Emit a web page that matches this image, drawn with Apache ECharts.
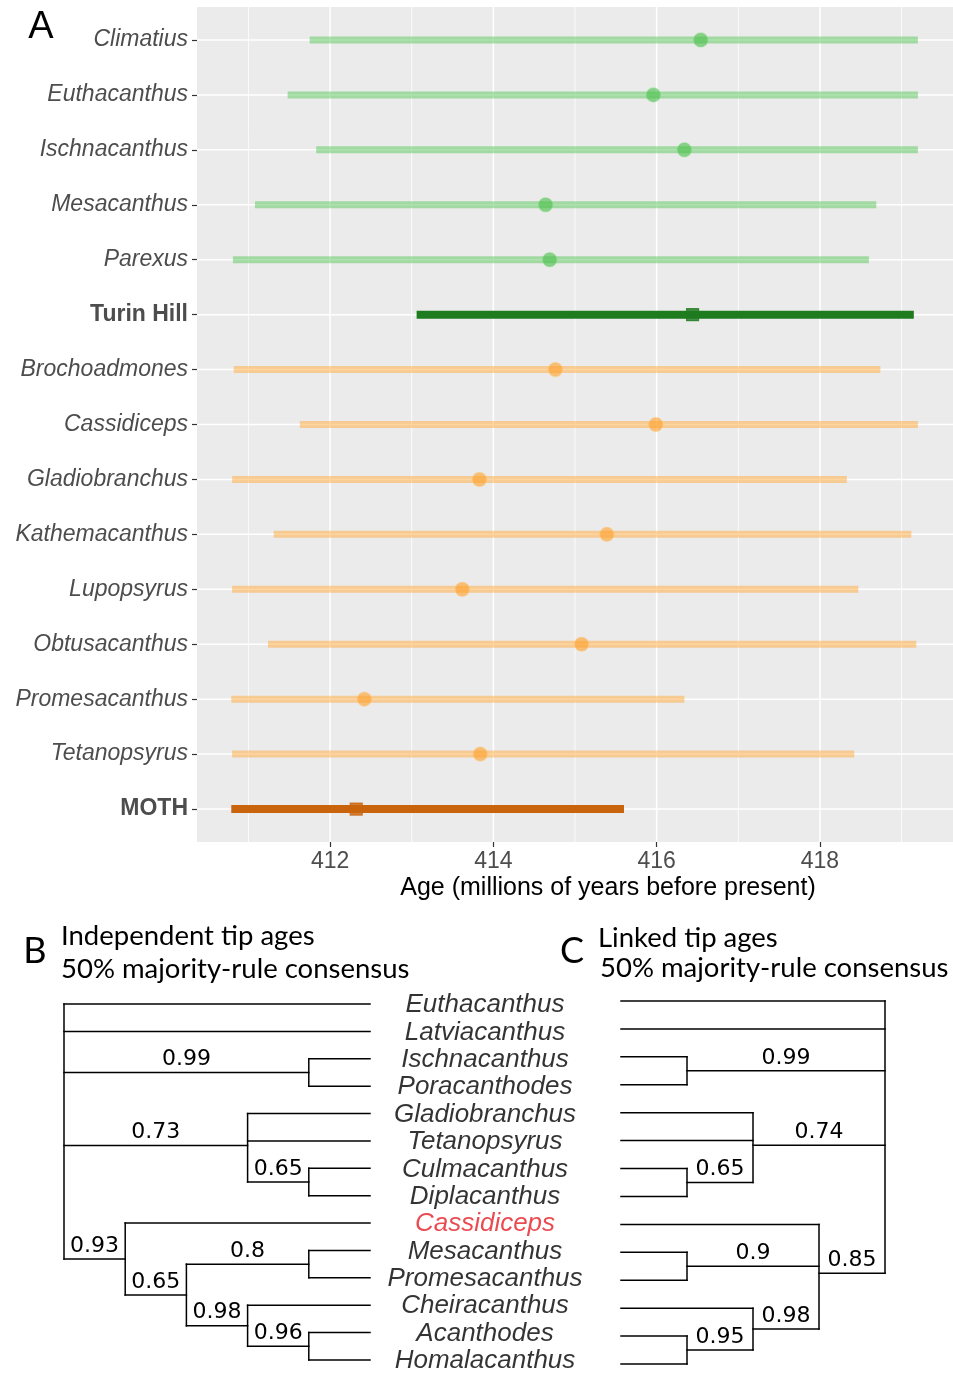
<!DOCTYPE html>
<html><head><meta charset="utf-8">
<script src="https://cdn.jsdelivr.net/npm/echarts@6/dist/echarts.min.js"></script>
<style>html,body{margin:0;padding:0;background:#fff}#c{width:953px;height:1374px}</style>
</head><body><div id="c"></div>
<script>
// ---------- Panel A data ----------
const taxa = ['Climatius','Euthacanthus','Ischnacanthus','Mesacanthus','Parexus','Turin Hill',
  'Brochoadmones','Cassidiceps','Gladiobranchus','Kathemacanthus','Lupopsyrus','Obtusacanthus',
  'Promesacanthus','Tetanopsyrus','MOTH'];
const kind = ['th','th','th','th','th','thSite','moth','moth','moth','moth','moth','moth','moth','moth','mothSite'];
const ageLow    = [411.75,411.48,411.83,411.08,410.81,413.06,410.82,411.63,410.80,411.31,410.80,411.24,410.79,410.80,410.79];
const ageHigh   = [419.20,419.20,419.20,418.69,418.60,419.15,418.74,419.20,418.33,419.12,418.47,419.18,416.34,418.42,415.60];
const ageMedian = [416.54,415.96,416.34,414.64,414.69,416.44,414.76,415.99,413.83,415.39,413.62,415.08,412.42,413.84,412.32];
const xMajorBreaks = [412,414,416,418];
const xMinorBreaks = [411,413,415,417,419];
const xLimits = [410.37,419.63];
const rowPositions = taxa.map((t,i)=>i+1);

// ---------- Panels B / C data (consensus trees, Newick with support values) ----------
const treeB = '(Euthacanthus,Latviacanthus,(Ischnacanthus,Poracanthodes)0.99,(Gladiobranchus,Tetanopsyrus,(Culmacanthus,Diplacanthus)0.65)0.73,(Cassidiceps,((Mesacanthus,Promesacanthus)0.8,(Cheiracanthus,(Acanthodes,Homalacanthus)0.96)0.98)0.65)0.93)';
const treeC = '(Euthacanthus,Latviacanthus,(Ischnacanthus,Poracanthodes)0.99,(Gladiobranchus,Tetanopsyrus,(Culmacanthus,Diplacanthus)0.65)0.74,(Cassidiceps,(Mesacanthus,Promesacanthus)0.9,(Cheiracanthus,(Acanthodes,Homalacanthus)0.95)0.98)0.85)';
const highlightTips = ['Cassidiceps'];

// ---------- styles ----------
const kindStyle = {
  th:       {bar:'rgba(90,200,90,0.5)',  barW:7, pt:'rgba(70,190,70,0.75)',  ring:'rgba(120,215,120,0.6)', sym:'circle', size:14},
  thSite:   {bar:'#1e7b1e',              barW:8, pt:'#1e7b1e',               ring:'#1e7b1e',              sym:'rect',   size:12},
  moth:     {bar:'rgba(255,170,60,0.5)', barW:7, pt:'rgba(255,160,40,0.75)', ring:'rgba(255,195,110,0.6)', sym:'circle', size:14},
  mothSite: {bar:'#c9640d',              barW:8, pt:'#c9640d',               ring:'#c9640d',              sym:'rect',   size:12}
};

function parseNewick(s){
  let i=0;
  function node(){
    if(s[i]==='('){
      i++; const children=[node()];
      while(s[i]===','){ i++; children.push(node()); }
      i++;
      let lab=''; while(i<s.length && /[0-9.]/.test(s[i])) lab+=s[i++];
      return {children, support: lab||null};
    }
    let name=''; while(i<s.length && !/[,()]/.test(s[i])) name+=s[i++];
    return {name};
  }
  return node();
}
function layoutTree(str){
  const root=parseNewick(str); let k=0;
  (function walk(n){
    if(!n.children){ n.y=k++; n.h=0; return; }
    n.children.forEach(walk);
    n.h=Math.max(...n.children.map(c=>c.h))+1;
    n.y=n.children.reduce((a,c)=>a+c.y,0)/n.children.length;
  })(root);
  const segs=[], labels=[], tips=[];
  (function collect(n){
    if(!n.children){ tips.push({value:[n.h,n.y], name:n.name}); return; }
    const ys=n.children.map(c=>c.y);
    segs.push([n.h,Math.min(...ys),n.h,Math.max(...ys)]);
    n.children.forEach(c=>{
      segs.push([n.h,c.y,c.h,c.y]);
      if(c.support) labels.push({value:[(n.h+c.h)/2,c.y], name:c.support});
      collect(c);
    });
  })(root);
  return {segs,labels,tips,height:root.h,nTips:k};
}
const LB = layoutTree(treeB), LC = layoutTree(treeC);

const chart = echarts.init(document.getElementById('c'), null, {renderer:'canvas'});
const axisTxt = '#4d4d4d';

function gridLineItems(){
  const d=[];
  xMajorBreaks.forEach(v=>d.push([v,1,0]));
  xMinorBreaks.forEach(v=>d.push([v,1,1]));
  rowPositions.forEach(r=>d.push([xLimits[0],r,2]));
  return d;
}

function treeSegSeries(L, xi){
  return {
    type:'custom', xAxisIndex:xi, yAxisIndex:xi, silent:true,
    data:L.segs, encode:{x:[0,2], y:[1,3]},
    renderItem(params, api){
      const p1=api.coord([api.value(0),api.value(1)]);
      const p2=api.coord([api.value(2),api.value(3)]);
      return {type:'line', shape:{x1:p1[0],y1:p1[1],x2:p2[0],y2:p2[1]},
        style:{stroke:'#000', lineWidth:1.5, lineCap:'square'}};
    }
  };
}
function treeLabelSeries(L, xi){
  return {
    type:'custom', xAxisIndex:xi, yAxisIndex:xi, silent:true,
    data:L.labels, encode:{x:0,y:1},
    renderItem(params, api){
      const p=api.coord([api.value(0),api.value(1)]);
      return {type:'text', x:p[0], y:p[1]-2,
        style:{text:L.labels[params.dataIndex].name, fill:'#000', font:'22px "DejaVu Sans"',
          textAlign:'center', textVerticalAlign:'bottom'}};
    }
  };
}

const pointSeries = Object.keys(kindStyle).map(k=>({
  type:'scatter', xAxisIndex:0, yAxisIndex:0, silent:true, z:5,
  symbol:kindStyle[k].sym, symbolSize:kindStyle[k].size,
  itemStyle:{color:kindStyle[k].pt, borderColor:kindStyle[k].ring, borderWidth:1.2},
  data: taxa.map((t,i)=>i).filter(i=>kind[i]===k).map(i=>[ageMedian[i], i+1])
}));

const option = {
  animation:false,
  backgroundColor:'#ffffff',
  grid:[
    {left:197, top:7, width:756, height:835, show:true, backgroundColor:'#ebebeb', borderWidth:0, containLabel:false},
    {left:64, top:1004, width:306, height:356, show:false},
    {left:621, top:1001, width:264, height:363, show:false}
  ],
  xAxis:[
    {gridIndex:0, type:'value', min:xLimits[0], max:xLimits[1],
     axisLine:{show:false}, splitLine:{show:false},
     axisTick:{show:true, customValues:xMajorBreaks, length:5, lineStyle:{color:'#333', width:1.2}},
     axisLabel:{customValues:xMajorBreaks, color:axisTxt, fontSize:23, fontFamily:'Liberation Sans', margin:8}},
    {gridIndex:1, type:'value', min:0, max:LB.height, inverse:true, show:false},
    {gridIndex:2, type:'value', min:0, max:LC.height, show:false}
  ],
  yAxis:[
    {gridIndex:0, type:'value', min:0.4, max:15.6, inverse:true,
     axisLine:{show:false}, splitLine:{show:false},
     axisTick:{show:true, customValues:rowPositions, length:5, lineStyle:{color:'#333', width:1.2}},
     axisLabel:{customValues:rowPositions, margin:9,
       formatter:(v)=>{ const i=Math.round(v)-1; const t=taxa[i]; return (kind[i].indexOf('Site')>=0?'{b|':'{i|')+t+'}'; },
       rich:{
         i:{fontStyle:'italic', fontSize:23, color:axisTxt, fontFamily:'Liberation Sans'},
         b:{fontWeight:'bold', fontSize:23, color:axisTxt, fontFamily:'Liberation Sans'}
       }}},
    {gridIndex:1, type:'value', min:0, max:LB.nTips-1, inverse:true, show:false},
    {gridIndex:2, type:'value', min:0, max:LC.nTips-1, inverse:true, show:false}
  ],
  graphic:[
    {type:'text', x:41, y:28, style:{text:'A', font:'38px "Liberation Sans"', fill:'#000', textAlign:'center', textVerticalAlign:'middle'}},
    {type:'text', x:608, y:888, style:{text:'Age (millions of years before present)', font:'25px "Liberation Sans"', fill:'#000', textAlign:'center', textVerticalAlign:'middle'}},
    {type:'text', x:35, y:951, style:{text:'B', font:'36px Lato', fill:'#000', textAlign:'center', textVerticalAlign:'middle'}},
    {type:'text', x:61, y:936, style:{text:'Independent tip ages', font:'27.5px Lato', fill:'#000', textVerticalAlign:'middle'}},
    {type:'text', x:61, y:969, style:{text:'50% majority-rule consensus', font:'27.5px Lato', fill:'#000', textVerticalAlign:'middle'}},
    {type:'text', x:572, y:951, style:{text:'C', font:'36px Lato', fill:'#000', textAlign:'center', textVerticalAlign:'middle'}},
    {type:'text', x:598, y:938, style:{text:'Linked tip ages', font:'27.5px Lato', fill:'#000', textVerticalAlign:'middle'}},
    {type:'text', x:600, y:968, style:{text:'50% majority-rule consensus', font:'27.5px Lato', fill:'#000', textVerticalAlign:'middle'}}
  ],
  series:[
    {type:'custom', xAxisIndex:0, yAxisIndex:0, silent:true, z:1,
     data:gridLineItems(), encode:{x:0,y:1},
     renderItem(params, api){
       const cs=params.coordSys; const t=api.value(2);
       const p=api.coord([api.value(0),api.value(1)]);
       if(t<2) return {type:'line', shape:{x1:p[0],y1:cs.y,x2:p[0],y2:cs.y+cs.height},
         style:{stroke:'#ffffff', lineWidth:t===0?1.5:0.8}};
       return {type:'line', shape:{x1:cs.x,y1:p[1],x2:cs.x+cs.width,y2:p[1]},
         style:{stroke:'#ffffff', lineWidth:1.5}};
     }},
    {type:'custom', xAxisIndex:0, yAxisIndex:0, silent:true, z:3,
     data:taxa.map((t,i)=>[ageLow[i],ageHigh[i],i+1]), encode:{x:[0,1],y:2},
     renderItem(params, api){
       const st=kindStyle[kind[params.dataIndex]];
       const p1=api.coord([api.value(0),api.value(2)]);
       const p2=api.coord([api.value(1),api.value(2)]);
       return {type:'line', shape:{x1:p1[0],y1:p1[1],x2:p2[0],y2:p2[1]},
         style:{stroke:st.bar, lineWidth:st.barW, lineCap:'butt'}};
     }},
    ...pointSeries,
    treeSegSeries(LB,1), treeLabelSeries(LB,1),
    treeSegSeries(LC,2), treeLabelSeries(LC,2),
    {type:'scatter', xAxisIndex:1, yAxisIndex:1, silent:true, symbolSize:0,
     data:LB.tips.map(d=>({value:d.value, name:d.name,
       label:{color: highlightTips.indexOf(d.name)>=0 ? '#e41e26' : '#000'}})),
     label:{show:true, position:'inside', offset:[115,1], align:'center', verticalAlign:'middle',
       formatter:'{b}', fontStyle:'italic', fontSize:26, fontFamily:'Liberation Sans'}}
  ]
};
chart.setOption(option);
</script></body></html>
